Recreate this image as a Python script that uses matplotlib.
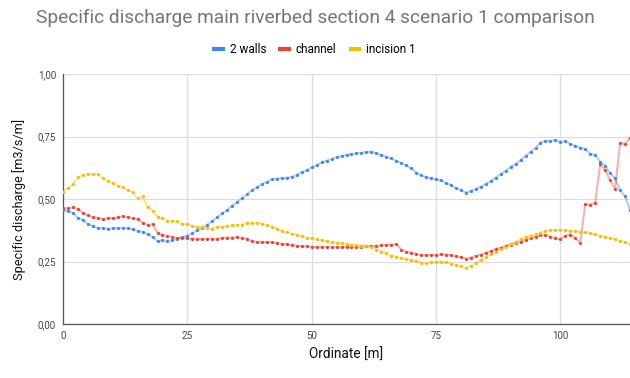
import numpy as np
import matplotlib.pyplot as plt
from matplotlib.lines import Line2D
from matplotlib.ticker import FuncFormatter

plt.rcParams['font.family'] = ['Roboto', 'DejaVu Sans']

# ordinate [m], one point per metre
ordinate = np.arange(0, 115)

walls_2 = [
    0.455, 0.453, 0.444, 0.424, 0.416, 0.400, 0.393, 0.385, 0.383, 0.381,
    0.383, 0.385, 0.385, 0.384, 0.379, 0.373, 0.369, 0.359, 0.349, 0.331,
    0.335, 0.333, 0.335, 0.341, 0.347, 0.354, 0.363, 0.376, 0.385, 0.397,
    0.412, 0.428, 0.443, 0.456, 0.474, 0.487, 0.504, 0.519, 0.536, 0.547,
    0.560, 0.569, 0.579, 0.581, 0.584, 0.585, 0.589, 0.596, 0.607, 0.616,
    0.627, 0.636, 0.647, 0.653, 0.661, 0.667, 0.673, 0.677, 0.680, 0.683,
    0.685, 0.688, 0.690, 0.683, 0.676, 0.668, 0.663, 0.653, 0.644, 0.635,
    0.623, 0.606, 0.595, 0.587, 0.583, 0.579, 0.575, 0.563, 0.557, 0.543,
    0.535, 0.526, 0.532, 0.541, 0.550, 0.560, 0.572, 0.586, 0.600, 0.613,
    0.629, 0.641, 0.656, 0.673, 0.690, 0.704, 0.726, 0.733, 0.733, 0.736,
    0.729, 0.732, 0.720, 0.713, 0.706, 0.700, 0.681, 0.677, 0.649, 0.634,
    0.603, 0.583, 0.536, 0.511, 0.456,
]

channel = [
    0.463, 0.463, 0.467, 0.459, 0.445, 0.435, 0.427, 0.424, 0.419, 0.424,
    0.424, 0.427, 0.431, 0.428, 0.424, 0.420, 0.405, 0.397, 0.399, 0.365,
    0.357, 0.352, 0.349, 0.343, 0.345, 0.343, 0.341, 0.340, 0.340, 0.341,
    0.341, 0.340, 0.345, 0.346, 0.346, 0.347, 0.345, 0.339, 0.331, 0.328,
    0.329, 0.328, 0.327, 0.324, 0.321, 0.319, 0.316, 0.313, 0.312, 0.311,
    0.309, 0.308, 0.308, 0.307, 0.307, 0.307, 0.307, 0.308, 0.308, 0.309,
    0.310, 0.311, 0.312, 0.313, 0.315, 0.316, 0.318, 0.320, 0.298, 0.290,
    0.285, 0.280, 0.276, 0.276, 0.276, 0.276, 0.280, 0.277, 0.275, 0.272,
    0.268, 0.261, 0.266, 0.272, 0.278, 0.285, 0.292, 0.300, 0.306, 0.313,
    0.318, 0.325, 0.330, 0.337, 0.344, 0.349, 0.356, 0.356, 0.350, 0.344,
    0.340, 0.354, 0.357, 0.343, 0.325, 0.480, 0.478, 0.485, 0.640, 0.615,
    0.575, 0.540, 0.725, 0.720, 0.745,
]

incision_1 = [
    0.530, 0.545, 0.559, 0.587, 0.596, 0.601, 0.600, 0.599, 0.583, 0.573,
    0.563, 0.553, 0.547, 0.535, 0.528, 0.503, 0.511, 0.467, 0.453, 0.429,
    0.425, 0.412, 0.413, 0.411, 0.399, 0.401, 0.391, 0.388, 0.387, 0.384,
    0.381, 0.389, 0.389, 0.392, 0.395, 0.397, 0.397, 0.406, 0.405, 0.404,
    0.401, 0.396, 0.390, 0.381, 0.372, 0.367, 0.360, 0.358, 0.351, 0.346,
    0.343, 0.339, 0.335, 0.332, 0.328, 0.325, 0.323, 0.320, 0.317, 0.315,
    0.313, 0.311, 0.308, 0.298, 0.290, 0.283, 0.273, 0.269, 0.266, 0.260,
    0.256, 0.252, 0.246, 0.244, 0.248, 0.249, 0.249, 0.249, 0.240, 0.236,
    0.232, 0.224, 0.233, 0.244, 0.256, 0.267, 0.279, 0.287, 0.299, 0.309,
    0.320, 0.329, 0.339, 0.347, 0.353, 0.359, 0.365, 0.372, 0.376, 0.376,
    0.376, 0.376, 0.373, 0.372, 0.369, 0.367, 0.363, 0.359, 0.353, 0.349,
    0.345, 0.340, 0.333, 0.327, 0.320,
]

series = [
    ('2 walls', walls_2, '#4285F4'),
    ('channel', channel, '#EA4335'),
    ('incision 1', incision_1, '#FBBC04'),
]

fig = plt.figure(figsize=(6.3, 3.78), dpi=100)
ax = fig.add_axes([0.1, 0.1429, 0.9, 0.661])

for name, vals, col in series:
    ax.plot(ordinate, vals, color=col, alpha=0.4, lw=1.5, zorder=3)
    ax.plot(ordinate, vals, 'o', color=col, ms=2.3, mew=0, zorder=4)

ax.set_xlim(0, 114)
ax.set_ylim(0, 1.0)
ax.set_xticks([0, 25, 50, 75, 100])
ax.set_yticks([0, 0.25, 0.5, 0.75, 1.0])
ax.yaxis.set_major_formatter(FuncFormatter(lambda v, p: f'{v:.2f}'.replace('.', ',')))
ax.grid(True, color='#dddddd', lw=0.9, zorder=0)
ax.tick_params(length=0, labelsize=7, colors='#444444', pad=5)
for s in ['top', 'right']:
    ax.spines[s].set_visible(False)
for s in ['left', 'bottom']:
    ax.spines[s].set_color('#555555')
    ax.spines[s].set_linewidth(0.9)

ax.set_xlabel('Ordinate [m]', fontsize=9.8, color='#111111', labelpad=5)
ax.set_ylabel('Specific discharge [m3/s/m]', fontsize=9.2, color='#111111', labelpad=8)

fig.text(0.5, 0.952, 'Specific discharge main riverbed section 4 scenario 1 comparison',
         ha='center', va='center', fontsize=13.8, color='#757575')

handles = [Line2D([], [], color=c, lw=3) for _, _, c in series]
fig.legend(handles, [n for n, _, _ in series], loc='center', bbox_to_anchor=(0.5, 0.868),
           ncol=3, frameon=False, fontsize=8.5, handlelength=0.7, handletextpad=0.6,
           columnspacing=1.2)

fig.savefig('out.png', dpi=100)
